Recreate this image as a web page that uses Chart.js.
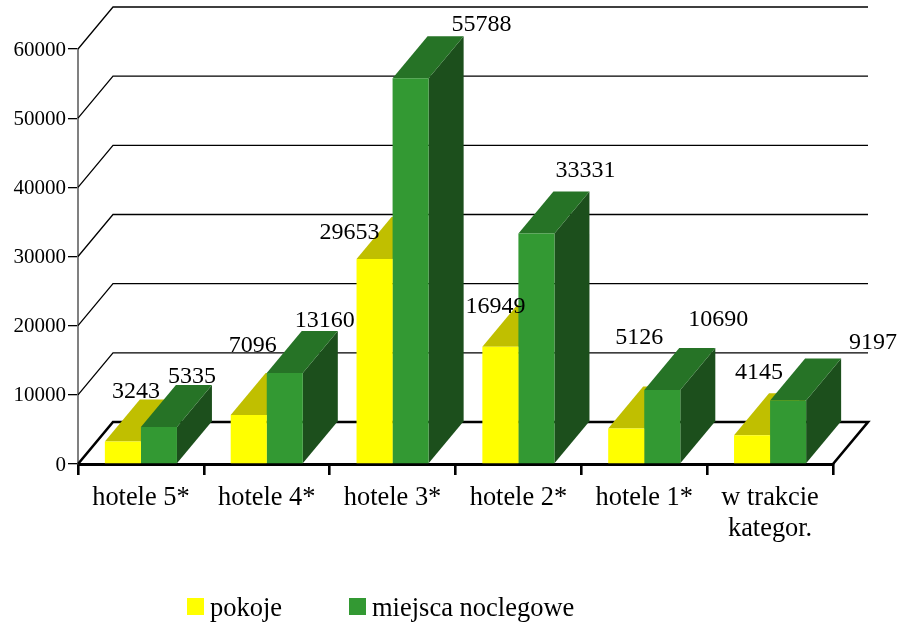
<!DOCTYPE html>
<html>
<head>
<meta charset="utf-8">
<style>html,body{margin:0;padding:0;background:#fff}canvas{display:block}</style>
<script src="https://cdn.jsdelivr.net/npm/chart.js@4"></script>
</head>
<body>
<canvas id="c" width="901" height="626"></canvas>
<script>
const categories = ["hotele 5*", "hotele 4*", "hotele 3*", "hotele 2*", "hotele 1*", ["w trakcie", "kategor."]];
const pokoje = [3243, 7096, 29653, 16949, 5126, 4145];
const miejsca = [5335, 13160, 55788, 33331, 10690, 9197];
const yTicks = [0, 10000, 20000, 30000, 40000, 50000, 60000];
const seriesNames = ["pokoje", "miejsca noclegowe"];

const FONT = '"Liberation Serif", "Times New Roman", serif';
const DX = 35, DY = 42, BACK_RIGHT = 868;
const faces = [
  {front: "#ffff00", top: "#c0bf00", side: "#8f8f00"},
  {front: "#339933", top: "#267326", side: "#1c4f1c"}
];
// hand placement of the value labels in the original: centre / baseline relative to the bar's back top corner
const nudges = [
  [[-22, -2], [-31, -21], [-60, 22], [-40, 8], [-22, -43], [-28, -14]],
  [[-2, -2], [5, -4], [36, -5], [14, -14], [21, -22], [50, -9]]
];

const depthPlugin = {
  id: "depth",
  beforeDatasetsDraw(chart) {
    const {ctx, chartArea: a, scales: {x, y}} = chart;
    ctx.save();
    // back wall gridlines
    ctx.strokeStyle = "#000"; ctx.lineWidth = 1.3;
    y.ticks.forEach(t => {
      if (t.value === 0) return;
      const py = y.getPixelForValue(t.value);
      ctx.beginPath();
      ctx.moveTo(a.left, py);
      ctx.lineTo(a.left + DX, py - DY);
      ctx.lineTo(BACK_RIGHT, py - DY);
      ctx.stroke();
    });
    // floor
    ctx.lineWidth = 2.6;
    ctx.beginPath();
    ctx.moveTo(a.left, a.bottom);
    ctx.lineTo(a.left + DX, a.bottom - DY);
    ctx.lineTo(BACK_RIGHT, a.bottom - DY);
    ctx.lineTo(a.right, a.bottom);
    ctx.stroke();
    // bar tops and sides
    categories.forEach((_, i) => {
      faces.forEach((f, d) => {
        const el = chart.getDatasetMeta(d).data[i];
        const l = el.x - el.width / 2, r = el.x + el.width / 2;
        ctx.fillStyle = f.side;
        ctx.beginPath();
        ctx.moveTo(r, el.base); ctx.lineTo(r + DX, el.base - DY);
        ctx.lineTo(r + DX, el.y - DY); ctx.lineTo(r, el.y);
        ctx.closePath(); ctx.fill();
        ctx.fillStyle = f.top;
        ctx.beginPath();
        ctx.moveTo(l, el.y); ctx.lineTo(l + DX, el.y - DY);
        ctx.lineTo(r + DX, el.y - DY); ctx.lineTo(r, el.y);
        ctx.closePath(); ctx.fill();
      });
    });
    ctx.restore();
  },
  afterDatasetsDraw(chart) {
    const {ctx} = chart;
    ctx.save();
    // value labels
    ctx.fillStyle = "#000";
    ctx.font = "24px " + FONT;
    ctx.textAlign = "center";
    ctx.textBaseline = "alphabetic";
    chart.data.datasets.forEach((ds, d) => {
      chart.getDatasetMeta(d).data.forEach((el, i) => {
        const [ox, oy] = nudges[d][i];
        ctx.fillText(String(ds.data[i]), el.x + DX + ox, el.y - DY + oy);
      });
    });
    // legend
    ctx.font = "26.5px " + FONT;
    ctx.textAlign = "left";
    const swatchX = [187, 349];
    seriesNames.forEach((name, d) => {
      ctx.fillStyle = faces[d].front;
      ctx.fillRect(swatchX[d], 598, 17, 17);
      ctx.fillStyle = "#000";
      ctx.fillText(name, swatchX[d] + 23, 615.5);
    });
    ctx.restore();
  }
};

new Chart(document.getElementById("c"), {
  type: "bar",
  data: {
    labels: categories,
    datasets: [
      {label: seriesNames[0], data: pokoje, backgroundColor: faces[0].front},
      {label: seriesNames[1], data: miejsca, backgroundColor: faces[1].front}
    ]
  },
  options: {
    responsive: false,
    animation: false,
    layout: {padding: {left: 0, right: 68, top: 49, bottom: 0}},
    datasets: {bar: {categoryPercentage: 0.573, barPercentage: 1}},
    plugins: {legend: {display: false}, tooltip: {enabled: false}},
    scales: {
      x: {
        afterFit(s) { s.height = 162; },
        grid: {drawOnChartArea: false, color: "#000", lineWidth: 2.6, tickLength: 11, tickColor: "#000"},
        border: {color: "#000", width: 3},
        ticks: {color: "#000", font: {family: FONT, size: 26.4}, padding: 7, maxRotation: 0, autoSkip: false}
      },
      y: {
        min: 0, max: 60000,
        afterFit(s) { s.width = 78; },
        afterBuildTicks(s) { s.ticks = yTicks.map(v => ({value: v})); },
        grid: {drawOnChartArea: false, color: "#000", lineWidth: 1.3, tickLength: 10, tickColor: "#000"},
        border: {color: "#808080", width: 2},
        ticks: {color: "#000", font: {family: FONT, size: 21}, padding: 2, labelOffset: 1, callback: v => String(v)}
      }
    }
  },
  plugins: [depthPlugin]
});
</script>
</body>
</html>
